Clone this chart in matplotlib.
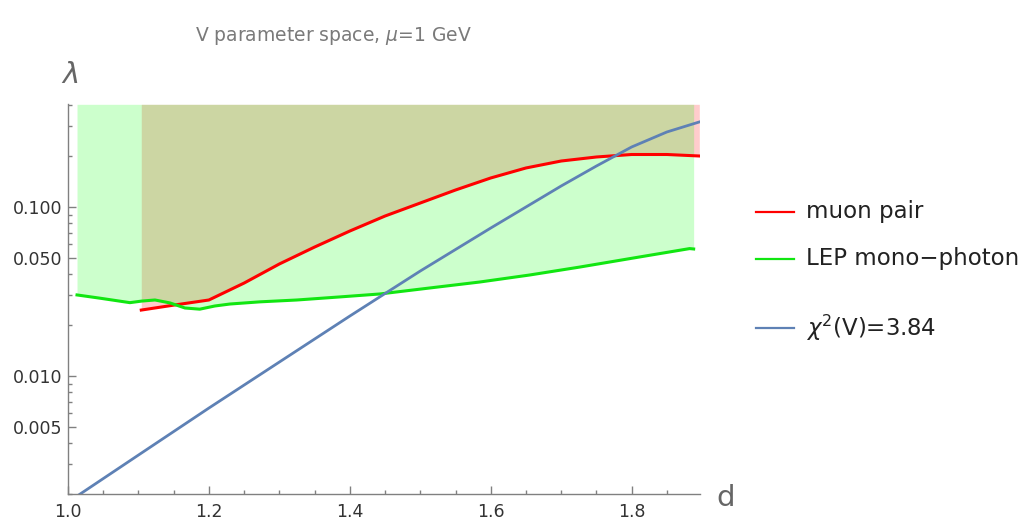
import numpy as np
import matplotlib.pyplot as plt
from matplotlib.lines import Line2D
from matplotlib.ticker import NullFormatter

plt.rcParams['font.family'] = ['DejaVu Sans']
plt.rcParams['mathtext.fontset'] = 'dejavusans'

# muon pair limit
mu_d = [1.104, 1.15, 1.20, 1.25, 1.30, 1.35, 1.40, 1.45, 1.50,
        1.55, 1.60, 1.65, 1.70, 1.75, 1.80, 1.85, 1.896]
mu_lam = [0.0245, 0.0262, 0.0281, 0.0354, 0.0459, 0.0578, 0.0719, 0.0882, 0.1053,
          0.1257, 0.1481, 0.1697, 0.1866, 0.1971, 0.2039, 0.2039, 0.1998]

# LEP mono-photon limit
lep_d = [1.0128, 1.0454, 1.0879, 1.105, 1.1234, 1.1447, 1.166, 1.187, 1.2085, 1.2298,
         1.2723, 1.3248, 1.3858, 1.4426, 1.5135, 1.5844, 1.6553, 1.7262, 1.8113, 1.8823, 1.888]
lep_lam = [0.0301, 0.0288, 0.0271, 0.0277, 0.0281, 0.0270, 0.0252, 0.0248, 0.0259, 0.0266,
           0.0274, 0.0281, 0.0293, 0.0305, 0.0331, 0.0359, 0.0395, 0.0440, 0.0505, 0.0566, 0.0563]

# chi^2(V) = 3.84 contour
chi_d = [1.0, 1.1, 1.2, 1.3, 1.4, 1.45, 1.5, 1.6, 1.7, 1.75, 1.8, 1.85, 1.896]
chi_lam = [0.00179, 0.00340, 0.00645, 0.01207, 0.02258, 0.03069, 0.04170, 0.0749,
           0.1328, 0.1743, 0.2259, 0.2771, 0.3176]

labels = ['muon pair', 'LEP mono\u2212photon', r'$\chi^2$(V)=3.84']
colors = ['#ff0000', '#11e611', '#5e81b5']

y_major = [0.005, 0.01, 0.05, 0.1]
y_major_lbl = ['0.005', '0.010', '0.050', '0.100']
y_minor = [0.002, 0.003, 0.004, 0.006, 0.007, 0.008, 0.009, 0.02, 0.03, 0.04,
           0.06, 0.07, 0.08, 0.09, 0.2, 0.3, 0.4]
x_major = [1.0, 1.2, 1.4, 1.6, 1.8]
x_major_lbl = ['1.0', '1.2', '1.4', '1.6', '1.8']

W, H = 1030, 523
fig = plt.figure(figsize=(W / 100, H / 100), dpi=100)
ax = fig.add_axes([68 / W, 29 / H, 632 / W, 389.7 / H])
ax.set_yscale('log')
ax.set_xlim(1.0, 1.897)
ax.set_ylim(0.002, 0.404)
top = ax.get_ylim()[1]

ax.fill_between(mu_d, mu_lam, top, color=(1, 0, 0), alpha=0.2, lw=0)
ax.fill_between(lep_d, lep_lam, top, color=(0, 1, 0), alpha=0.2, lw=0)
ax.plot(mu_d, mu_lam, color=colors[0], lw=2.2)
ax.plot(lep_d, lep_lam, color=colors[1], lw=2.2)
ax.plot(chi_d, chi_lam, color=colors[2], lw=2.0)

for s in ['top', 'right']:
    ax.spines[s].set_visible(False)
for s in ['left', 'bottom']:
    ax.spines[s].set_color('#808080')
    ax.spines[s].set_linewidth(1.0)

ax.set_xticks(x_major)
ax.set_xticklabels(x_major_lbl)
ax.set_xticks(np.arange(1.05, 1.89, 0.05), minor=True)
ax.set_yticks(y_major)
ax.set_yticklabels(y_major_lbl)
ax.set_yticks(y_minor, minor=True)
ax.yaxis.set_minor_formatter(NullFormatter())
ax.xaxis.set_minor_formatter(NullFormatter())

ax.tick_params(which='both', direction='in', color='#808080', labelcolor='#333333',
               labelsize=12.5, width=1.0)
ax.tick_params(which='major', length=5.5)
ax.tick_params(which='minor', length=2.8)
ax.tick_params(axis='x', pad=6.5)
ax.tick_params(axis='y', pad=3.8)

fig.text(333 / W, 1 - 41 / H, r'V parameter space, $\mu$=1 GeV', ha='center',
         va='baseline', fontsize=13.5, color='#7a7a7a')
fig.text(69.5 / W, 1 - 83 / H, r'$\lambda$', ha='center', va='baseline',
         fontsize=21, color='#666666')
fig.text(716 / W, 1 - 506 / H, 'd', ha='left', va='baseline', fontsize=21, color='#666666')

# legend
for yp, lbl, c in zip([211.7, 259, 327.7], labels, colors):
    fig.add_artist(Line2D([756 / W, 794 / W], [1 - yp / H, 1 - yp / H],
                          transform=fig.transFigure, color=c, lw=1.6))
    fig.text(806 / W, 1 - yp / H, lbl, ha='left', va='center', fontsize=16.5, color='#222222')

fig.savefig('out.png', dpi=100)
